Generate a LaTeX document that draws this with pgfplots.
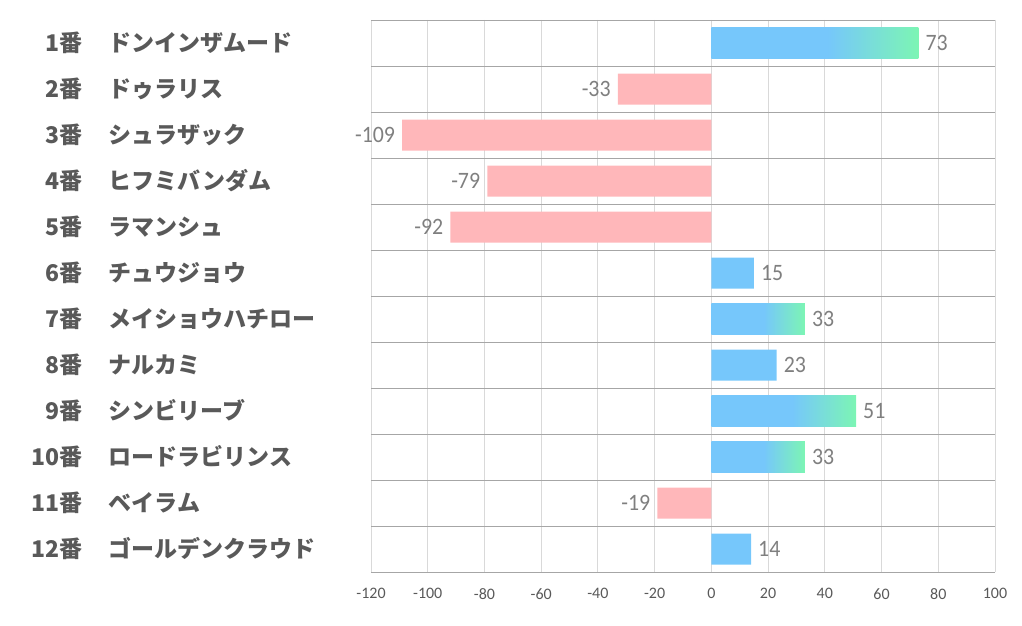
\documentclass[border=0pt]{standalone}
\usepackage{pgfplots}
\pgfplotsset{compat=1.18}
\usepackage{fontspec}
\setmainfont{Carlito}
\newfontfamily\jp{Noto Sans CJK JP}
\definecolor{barblue}{HTML}{76C7FB}
\definecolor{bargreen}{HTML}{7CF5B4}
\definecolor{barpink}{HTML}{FFB7BA}
\definecolor{gridlight}{HTML}{D9D9D9}
\definecolor{griddark}{HTML}{A6A6A6}
\definecolor{labgray}{HTML}{595959}
\definecolor{valgray}{HTML}{7F7F7F}
\pgfdeclarehorizontalshading{bargrad}{100bp}{color(0bp)=(barblue); color(25bp)=(barblue); color(53bp)=(barblue); color(75bp)=(bargreen); color(100bp)=(bargreen)}
\newcommand\lab[2]{\makebox[48pt][r]{#1}\hspace{26pt}#2}
\begin{document}
\begin{tikzpicture}
\useasboundingbox (0,0) rectangle (1022pt,626pt);
\begin{axis}[
  at={(371pt,54pt)}, anchor=south west,
  scale only axis, width=624pt, height=552pt,
  xmin=-120, xmax=100, ymin=0.5, ymax=12.5, y dir=reverse,
  xtick={-120,-100,...,100},
  ytick={1,...,12},
  minor ytick={0.5,1.5,...,12.5},
  yticklabels={{\lab{1番}{ドンインザムード}},{\lab{2番}{ドゥラリス}},{\lab{3番}{シュラザック}},{\lab{4番}{ヒフミバンダム}},{\lab{5番}{ラマンシュ}},{\lab{6番}{チュウジョウ}},{\lab{7番}{メイショウハチロー}},{\lab{8番}{ナルカミ}},{\lab{9番}{シンビリーブ}},{\lab{10番}{ロードラビリンス}},{\lab{11番}{ベイラム}},{\lab{12番}{ゴールデンクラウド}}},
  axis line style={draw=none},
  tick style={draw=none},
  xmajorgrids, yminorgrids,
  major grid style={draw=gridlight, line width=0.9pt},
  minor grid style={draw=griddark, line width=0.9pt},
  /pgf/number format/assume math mode=true,
  xticklabel style={font=\fontsize{16pt}{16pt}\selectfont, text=labgray, inner sep=0pt, anchor=north, yshift=-16pt},
  yticklabel style={font=\jp\bfseries\fontsize{23pt}{23pt}\selectfont, text=labgray, anchor=west, inner sep=0pt, xshift=-332pt},
  xbar, bar width=31pt, bar shift=0pt,
  nodes near coords,
  every node near coord/.append style={font=\fontsize{23.5pt}{23.5pt}\selectfont, text=valgray, xscale=0.93, inner xsep=7.5pt},
]
\addplot[draw=none, shading=bargrad] coordinates {(73,1)};
\addplot[draw=none, shading=bargrad] coordinates {(33,7)};
\addplot[draw=none, shading=bargrad] coordinates {(51,9)};
\addplot[draw=none, shading=bargrad] coordinates {(33,10)};
\addplot[draw=none, fill=barblue] coordinates {(15,6) (23,8) (14,12)};
\addplot[draw=none, fill=barpink] coordinates {(-33,2) (-109,3) (-79,4) (-92,5) (-19,11)};
\end{axis}
\end{tikzpicture}
\end{document}
